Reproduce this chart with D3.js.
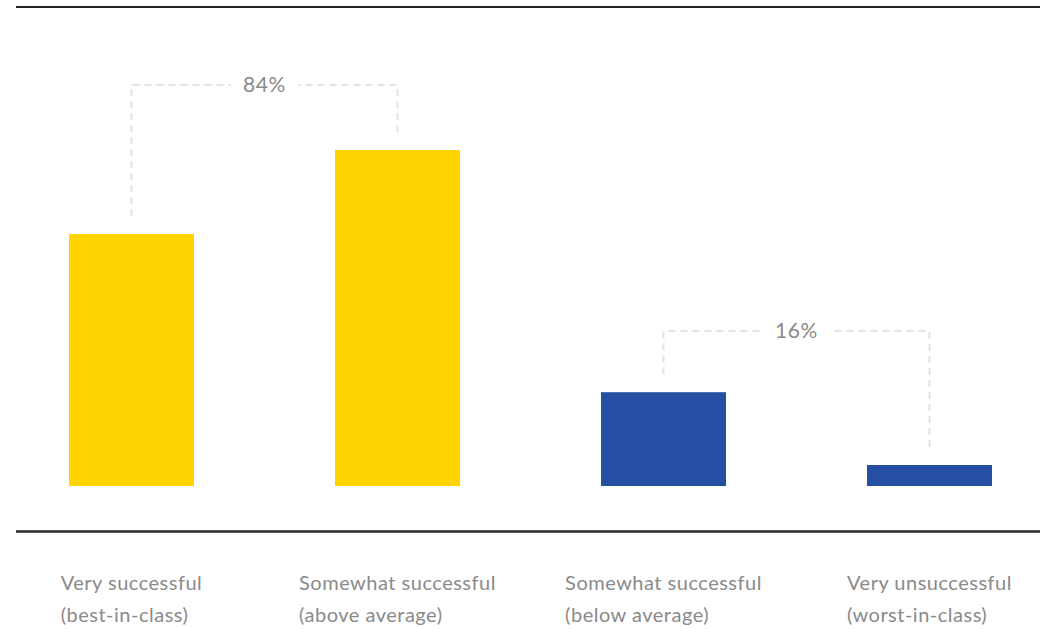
<!DOCTYPE html>
<html>
<head>
<meta charset="utf-8">
<script src="https://cdn.jsdelivr.net/npm/d3@7"></script>
<style>
html,body{margin:0;padding:0;background:#fff;}
svg{display:block;}
text{font-family:"Lato","Open Sans",sans-serif;}
</style>
</head>
<body>
<svg id="chart" width="1040" height="629"></svg>
<script>
const categories = ["best","above","below","worst"];
const labelLine1 = ["Very successful","Somewhat successful","Somewhat successful","Very unsuccessful"];
const labelLine2 = ["(best-in-class)","(above average)","(below average)","(worst-in-class)"];
const values = [36, 48, 13.4, 3];
const barColors = ["#FFD400","#FFD400","#244FA3","#244FA3"];
const groupLabels = ["84%","16%"];
const groupPairs = [[0,1],[2,3]];

const svg = d3.select("#chart");
const x = d3.scaleBand().domain(categories).range([69, 992]).paddingInner(0.5301).paddingOuter(0);
const y = d3.scaleLinear().domain([0, 48]).range([486, 150]);

// top rule
svg.append("line").attr("x1",16).attr("x2",1040).attr("y1",7).attr("y2",7)
  .attr("stroke","#222").attr("stroke-width",2);
// bottom rule
svg.append("line").attr("x1",16).attr("x2",1040).attr("y1",531.5).attr("y2",531.5)
  .attr("stroke","#2a2a2a").attr("stroke-width",2.6);

// bars
svg.selectAll("rect.bar").data(categories).enter().append("rect")
  .attr("class","bar")
  .attr("x", d => x(d))
  .attr("width", x.bandwidth())
  .attr("y", (d,i) => y(values[i]))
  .attr("height", (d,i) => y(0) - y(values[i]))
  .attr("fill", (d,i) => barColors[i]);

// brackets
const bracketTop = [85, 331];
groupPairs.forEach((pair, gi) => {
  const [a,b] = pair;
  const xa = x(categories[a]) + x.bandwidth()/2;
  const xb = x(categories[b]) + x.bandwidth()/2;
  const yt = bracketTop[gi];
  const ya = y(values[a]) - 18;
  const yb = y(values[b]) - 18;
  const xm = (xa + xb)/2;
  const g = svg.append("g");
  const t = g.append("text").attr("x", xm).attr("y", yt).attr("dy","0.35em")
    .attr("text-anchor","middle").attr("fill","#8a8a8a")
    .attr("font-size",21).attr("letter-spacing",0.6).text(groupLabels[gi]);
  const w = t.node().getBBox().width;
  const gap = w/2 + 12;
  const dashStyle = sel => sel.attr("fill","none").attr("stroke","#e3e3e3")
      .attr("stroke-width",2).attr("stroke-dasharray","7,5");
  g.append("path").attr("d", `M${xa},${ya}V${yt}H${xm-gap}`).call(dashStyle);
  g.append("path").attr("d", `M${xb},${yb}V${yt}H${xm+gap}`).call(dashStyle);
});

// category labels
categories.forEach((c,i) => {
  const cx = x(c) + x.bandwidth()/2;
  const g = svg.append("g");
  const t1 = g.append("text").attr("y",590).attr("fill","#8a8a8a").attr("font-size",20)
    .attr("letter-spacing",0.5).text(labelLine1[i]);
  const t2 = g.append("text").attr("y",622).attr("fill","#8a8a8a").attr("font-size",20)
    .attr("letter-spacing",0.5).text(labelLine2[i]);
  const w = Math.max(t1.node().getBBox().width, t2.node().getBBox().width);
  g.attr("transform", `translate(${cx - w/2},0)`);
});
</script>
</body>
</html>
